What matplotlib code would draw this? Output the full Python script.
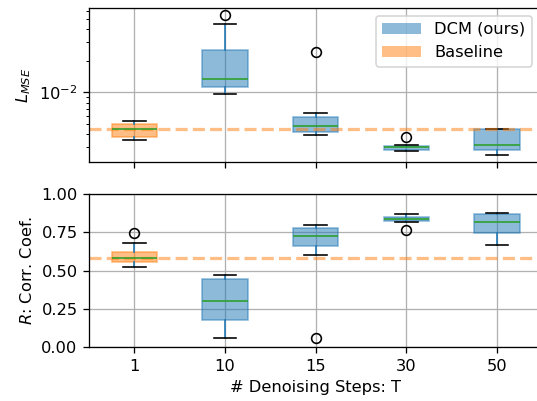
import matplotlib
matplotlib.use("Agg")
import matplotlib.pyplot as plt
from matplotlib.patches import Patch

# ---- data ----
steps_labels = ["1", "10", "15", "30", "50"]

mse_whislo = [0.00351, 0.0097, 0.00392, 0.00276, 0.00255]
mse_q1 = [0.00375, 0.0112, 0.00422, 0.00282, 0.00284]
mse_med = [0.00444, 0.0135, 0.00481, 0.00299, 0.00317]
mse_q3 = [0.00499, 0.0253, 0.00578, 0.00308, 0.00450]
mse_whishi = [0.0053, 0.0444, 0.0063, 0.00313, 0.00450]
mse_fliers = [[], [0.0545], [0.024], [0.00373], []]

r_whislo = [0.522, 0.063, 0.604, 0.815, 0.665]
r_q1 = [0.556, 0.176, 0.661, 0.822, 0.744]
r_med = [0.585, 0.304, 0.728, 0.835, 0.817]
r_q3 = [0.622, 0.448, 0.776, 0.852, 0.867]
r_whishi = [0.682, 0.472, 0.798, 0.872, 0.876]
r_fliers = [[0.748], [], [0.059], [0.767], []]

baseline_mse = mse_med[0]
baseline_r = r_med[0]

box_colors = ["C1", "C0", "C0", "C0", "C0"]


def make_stats(lo, q1, med, q3, hi, fl):
    return [dict(whislo=a, q1=b, med=c, q3=d, whishi=e, fliers=f, label=None)
            for a, b, c, d, e, f in zip(lo, q1, med, q3, hi, fl)]


DPI = 117
W, H = 537.0, 401.0
fig = plt.figure(figsize=(W / DPI, H / DPI), dpi=DPI)
left = 88.9 / W
width = 453.5 / W
ax1 = fig.add_axes([left, 1 - 162.3 / H, width, 154.0 / H])
ax2 = fig.add_axes([left, 1 - 347.3 / H, width, 153.3 / H], sharex=ax1)

positions = list(range(1, len(steps_labels) + 1))


def draw(ax, stats):
    bp = ax.bxp(stats, positions=positions, widths=0.5, patch_artist=True,
                whiskerprops=dict(color="C0"),
                capprops=dict(color="black"),
                medianprops=dict(color="C2"),
                flierprops=dict(marker="o", markerfacecolor="none",
                                markeredgecolor="black"))
    for patch, c in zip(bp["boxes"], box_colors):
        patch.set_facecolor(c)
        patch.set_edgecolor(c)
        patch.set_alpha(0.5)
    return bp


draw(ax1, make_stats(mse_whislo, mse_q1, mse_med, mse_q3, mse_whishi, mse_fliers))
ax1.set_yscale("log")
ax1.set_ylim(0.00216, 0.063)
ax1.axhline(baseline_mse, color="C1", alpha=0.5, linestyle="--", linewidth=2)
ax1.grid(True)
ax1.set_ylabel("$L_{MSE}$")
ax1.tick_params(labelbottom=False)
ax1.legend(handles=[Patch(facecolor="C0", alpha=0.5, label="DCM (ours)"),
                    Patch(facecolor="C1", alpha=0.5, label="Baseline")],
           loc="upper right", bbox_to_anchor=(532.0 / W, 1 - 15.5 / H),
           bbox_transform=fig.transFigure, borderaxespad=0,
           handlelength=2.4)

draw(ax2, make_stats(r_whislo, r_q1, r_med, r_q3, r_whishi, r_fliers))
ax2.set_ylim(0, 1)
ax2.set_yticks([0, 0.25, 0.5, 0.75, 1.0])
ax2.axhline(baseline_r, color="C1", alpha=0.5, linestyle="--", linewidth=2)
ax2.grid(True)
ax2.set_ylabel("$R$: Corr. Coef.")
ax2.set_xlabel("# Denoising Steps: T")
ax2.set_xlim(0.5, len(steps_labels) + 0.5)
ax2.set_xticks(positions)
ax2.set_xticklabels(steps_labels)

fig.savefig("out.png", dpi=DPI)
